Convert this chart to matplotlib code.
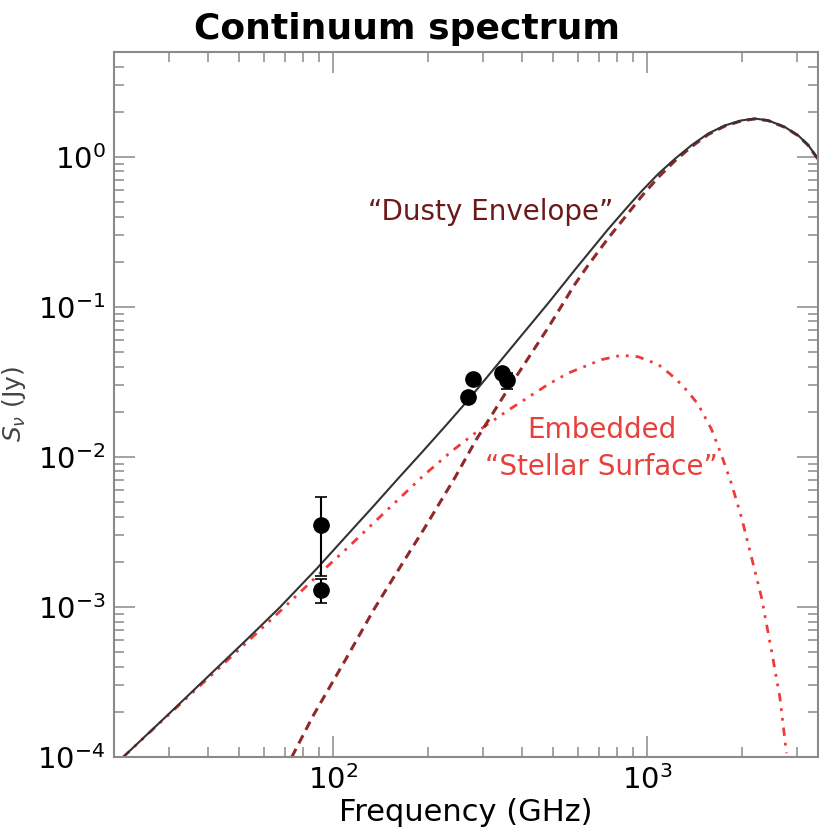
import numpy as np
import matplotlib
matplotlib.use("Agg")
import matplotlib.pyplot as plt

# values (GHz, Jy)
freq_total = [21.4, 29.45, 40.5, 52.9, 67.7, 88.5, 110.3, 120.1, 134.1, 161.0,
              193.5, 230.0, 269.0, 360.8, 483.8, 588.6, 648.7, 751.0, 870.0,
              959.0, 1084.0, 1225.0, 1384.0, 1564.0, 1768.0, 1997.0, 2203.0,
              2429.0, 2745.0, 3026.0, 3256.0, 3500.0]
flux_total = [1.0e-4, 1.88e-4, 3.55e-4, 6.05e-4, 1.0e-3, 1.8e-3, 2.99e-3, 3.64e-3,
              4.69e-3, 7.2e-3, 0.0110, 0.0165, 0.0240, 0.0505, 0.106, 0.177,
              0.227, 0.33, 0.47, 0.59, 0.77, 0.97, 1.196, 1.43, 1.62, 1.75,
              1.80, 1.75, 1.58, 1.39, 1.20, 0.97]

freq_dust = [73.7, 86.4, 110.3, 134.1, 153.4, 195.9, 244.1, 285.0, 360.8, 484.0,
             588.6, 648.7, 751.0, 870.0, 959.0, 1084.0, 1225.0, 1384.0, 1564.0,
             1768.0, 1997.0, 2203.0, 2429.0, 2745.0, 3026.0, 3256.0, 3500.0]
flux_dust = [1.0e-4, 1.9e-4, 4.6e-4, 9.5e-4, 1.5e-3, 3.4e-3, 7.3e-3, 0.0130,
             0.0285, 0.073, 0.142, 0.19, 0.287, 0.422, 0.545, 0.73, 0.94, 1.17,
             1.41, 1.605, 1.74, 1.79, 1.745, 1.575, 1.385, 1.195, 0.965]

freq_star = [21.4, 29.45, 40.5, 57.0, 71.0, 91.8, 110.3, 134.1, 193.5, 238.0,
             285.0, 360.8, 484.0, 560.0, 715.0, 828.0, 936.0, 1084.0, 1181.0,
             1286.0, 1368.0, 1453.0, 1602.0, 1724.0, 1856.0, 1997.0, 2149.0,
             2312.0, 2489.0, 2646.0, 2777.0]
flux_star = [1.0e-4, 1.86e-4, 3.45e-4, 6.7e-4, 1.03e-3, 1.72e-3, 2.45e-3, 3.62e-3,
             7.5e-3, 0.0109, 0.0146, 0.0205, 0.0305, 0.0362, 0.0445, 0.0476,
             0.0465, 0.0413, 0.0358, 0.0304, 0.0262, 0.0224, 0.0153, 0.0103,
             6.6e-3, 3.95e-3, 2.14e-3, 1.16e-3, 5.1e-4, 2.5e-4, 1.06e-4]

obs_freq = [91.0, 91.0, 267.7, 279.0, 345.0, 356.6]
obs_flux = [3.5e-3, 1.3e-3, 0.0251, 0.033, 0.0363, 0.0325]
obs_err = [1.9e-3, 0.23e-3, 0.0012, 0.0012, 0.0015, 0.004]

DUST_COLOR = "#8e2a2a"
DUST_TEXT = "#6b1a1a"
STAR_COLOR = "#f03a3a"
STAR_TEXT = "#e8403a"
AXIS_GRAY = "#8a8a8a"

fig = plt.figure(figsize=(8.19, 8.30), dpi=100)
ax = fig.add_axes([114 / 819, 1 - 757 / 830, 704 / 819, (757 - 52) / 830])

ax.plot(freq_star, flux_star, color=STAR_COLOR, lw=2.0,
        dashes=(3, 2.5, 1, 2.5, 1, 2.5))
ax.plot(freq_dust, flux_dust, color=DUST_COLOR, lw=2.2, dashes=(3, 2))
ax.plot(freq_total, flux_total, color="#333333", lw=1.5)
ax.errorbar(obs_freq, obs_flux, yerr=obs_err, fmt="o", color="black",
            ms=11, elinewidth=1.5, capsize=4, capthick=1.2, ecolor="black")

ax.set_xscale("log")
ax.set_yscale("log")
ax.set_xlim(20, 3500)
ax.set_ylim(1e-4, 5)

for side in ax.spines.values():
    side.set_color(AXIS_GRAY)
    side.set_linewidth(1.5)
ax.tick_params(which="both", direction="in", top=True, right=True,
               color=AXIS_GRAY, width=1.1)
ax.tick_params(which="major", length=15, labelsize=21)
ax.tick_params(which="minor", length=7)
ax.tick_params(axis="x", which="major", pad=6)
ax.tick_params(axis="y", which="major", pad=6)

ax.set_xlabel("Frequency (GHz)", fontsize=22, labelpad=2)
ax.set_ylabel(r"$S_{\nu}$ (Jy)", fontsize=18, color="#444444")
ax.yaxis.set_label_coords(-0.122, 0.5)

ax.text(316, 0.43, "\u201cDusty Envelope\u201d", color=DUST_TEXT,
        fontsize=20, ha="center", va="center")
ax.text(715, 0.0114, "Embedded\n\u201cStellar Surface\u201d", color=STAR_TEXT,
        fontsize=20, ha="center", va="center", linespacing=1.4)

fig.text(407 / 819, 1 - 29 / 830, "Continuum spectrum", fontsize=26,
         fontweight="bold", ha="center", va="center")

fig.savefig("out.png", dpi=100)
